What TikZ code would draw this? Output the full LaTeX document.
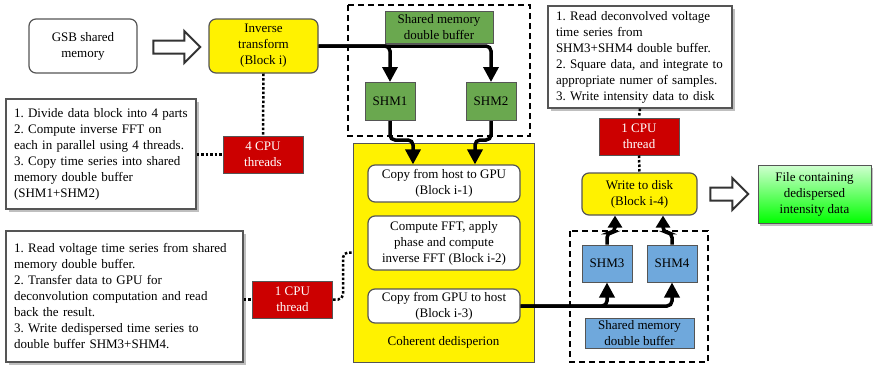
\documentclass[tikz,border=0pt]{standalone}
\usepackage{fontspec}
\setmainfont{Liberation Serif}
\usetikzlibrary{arrows.meta,shapes.arrows,shadows}

\definecolor{shmgreen}{HTML}{6AA84F}
\definecolor{shmblue}{HTML}{6FA8DC}
\definecolor{cpured}{HTML}{CC0000}
\definecolor{edgegray}{HTML}{555555}
\definecolor{filegreen}{HTML}{00FF00}
\definecolor{filepale}{HTML}{D0FFD0}

\begin{document}
\begin{tikzpicture}[x=1pt,y=-1pt,
        font=\fontsize{13}{16}\selectfont\frenchspacing,
        every node/.style={inner sep=0pt, align=center},
        rbox/.style={draw=edgegray, line width=1.2pt, rounded corners=7pt},
        note/.style={draw=edgegray, line width=1.2pt, fill=white, align=left, inner xsep=8pt,
            drop shadow={shadow xshift=3pt, shadow yshift=-3pt, fill=black!25, opacity=1}},
        cpu/.style={draw=edgegray, line width=1pt, fill=cpured, text=white, minimum width=80pt, minimum height=37pt},
        shm/.style={draw=edgegray, line width=1pt, minimum width=50pt, minimum height=38pt},
        frame/.style={line width=2.5pt, dash pattern=on 6pt off 4pt},
        flow/.style={line width=3.5pt, rounded corners=5pt, -{Triangle[width=15pt,length=15pt]}},
        link/.style={line width=2.5pt, dash pattern=on 2.5pt off 2pt},
        bigarrow/.style={single arrow, draw=black!80, line width=2pt, fill=white, inner sep=5.5pt,
            single arrow head extend=9.5pt, single arrow head indent=0pt}]
        \useasboundingbox (0,0) rectangle (873,367);

        % Input and first stage
        \node[rbox, fill=white, minimum width=108pt, minimum height=54pt] (gsb) at (83,46) {GSB shared\\memory};
        \node[rbox, fill=yellow, minimum width=109pt, minimum height=54pt] (inv) at (263.5,46) {Inverse\\transform\\(Block i)};
        \node[bigarrow, minimum height=47pt] (inarrow) at (173.5,47) {};
        \node[cpu] (cpufour) at (263,154.5) {4 CPU\\threads};
        \node[note, minimum width=188pt, minimum height=110pt, text width=174pt] (noteinv) at (101,154)
            {1. Divide data block into 4 parts\\2. Compute inverse FFT on\\each in parallel using 4 threads.\\3. Copy time series into shared\\memory double buffer\\(SHM1+SHM2)};

        % Buffer SHM1+SHM2
        \draw[frame] (348,5) rectangle (530,136);
        \node[shm, fill=shmgreen, minimum width=108pt, minimum height=32pt] (bufone) at (439,27) {Shared memory\\double buffer};
        \node[shm, fill=shmgreen] (shmone) at (390,101.5) {SHM1};
        \node[shm, fill=shmgreen] (shmtwo) at (491,101.5) {SHM2};

        % GPU stage
        \node[draw=edgegray, line width=1pt, fill=yellow, minimum width=181pt, minimum height=219pt] (coh) at (443.5,252.5) {};
        \node (cohlabel) at (443.5,342) {Coherent dedisperion};
        \node[rbox, fill=white, minimum width=152pt, minimum height=37pt] (tohost) at (444,183.5) {Copy from host to GPU\\(Block i-1)};
        \node[rbox, fill=white, minimum width=152pt, minimum height=54pt] (fft) at (444,243) {Compute FFT, apply\\phase and compute\\inverse FFT (Block i-2)};
        \node[rbox, fill=white, minimum width=152pt, minimum height=34pt] (fromgpu) at (444,306) {Copy from GPU to host\\(Block i-3)};
        \node[cpu] (cpugpu) at (292.5,299.5) {1 CPU\\thread};
        \node[note, minimum width=235pt, minimum height=131pt, text width=221pt] (notegpu) at (124.5,296.5)
            {1. Read voltage time series from shared\\memory double buffer.\\2. Transfer data to GPU for\\deconvolution computation and read\\back the result.\\3. Write dedispersed time series to\\double buffer SHM3+SHM4.};

        % Buffer SHM3+SHM4
        \draw[frame] (570,231) rectangle (708,362);
        \node[shm, fill=shmblue, minimum height=37pt] (shmthree) at (607,263.5) {SHM3};
        \node[shm, fill=shmblue, minimum height=37pt] (shmfour) at (672,263.5) {SHM4};
        \node[shm, fill=shmblue, minimum width=109pt, minimum height=30pt] (buftwo) at (639.5,333) {Shared memory\\double buffer};

        % Output stage
        \node[rbox, fill=yellow, minimum width=115pt, minimum height=42pt] (disk) at (639.5,194) {Write to disk\\(Block i-4)};
        \node[cpu] (cpudisk) at (639,136.5) {1 CPU\\thread};
        \node[note, minimum width=182pt, minimum height=102pt, text width=168pt] (notedisk) at (640,57)
            {1. Read deconvolved voltage\\time series from\\SHM3+SHM4 double buffer.\\2. Square data, and integrate to\\appropriate numer of samples.\\3. Write intensity data to disk};
        \node[bigarrow, minimum height=38pt] (outarrow) at (726,194) {};
        \node[draw=edgegray, line width=1pt, top color=filepale, bottom color=filegreen, minimum width=113pt, minimum height=58pt,
            drop shadow={shadow xshift=2pt, shadow yshift=-3pt, fill=black!25, opacity=1}] (file) at (814.5,194)
            {File containing\\dedispersed\\intensity data};

        % Data flow
        \draw[flow] (inv.east) -| (shmone.north);
        \draw[flow] (inv.east) -| (shmtwo.north);
        \draw[flow] (shmone.south) -- ++(0,19) -| ([xshift=-31pt]tohost.north);
        \draw[flow] (shmtwo.south) -- ++(0,19) -| ([xshift=31pt]tohost.north);
        \draw[flow] (fromgpu.east) -| (shmthree.south);
        \draw[flow] (fromgpu.east) -| (shmfour.south);
        \draw[flow, -{Triangle[width=14pt,length=12pt]}] (shmthree.north) -- ++(0,-12) -| ([xshift=-24.5pt]disk.south);
        \draw[flow, -{Triangle[width=14pt,length=12pt]}] (shmfour.north) -- ++(0,-12) -| ([xshift=23.5pt]disk.south);

        % Threads
        \draw[link] (inv.south) -- (cpufour.north);
        \draw[link] (cpufour.west -| noteinv.east) -- (cpufour.west);
        \draw[link] (cpugpu.west -| notegpu.east) -- (cpugpu.west);
        \draw[link, rounded corners=5pt] (cpugpu.east) -- ++(10,0) |- (coh.west);
        \draw[link] (notedisk.south) -- (cpudisk.north);
        \draw[link] (cpudisk.south) -- (disk.north);
    \end{tikzpicture}
\end{document}
